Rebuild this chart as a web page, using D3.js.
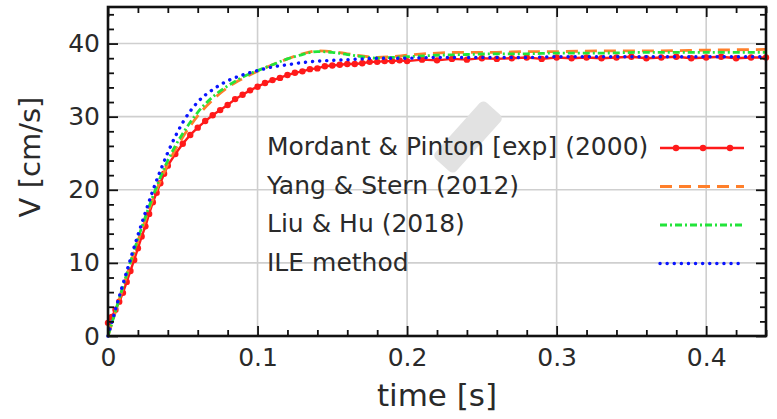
<!DOCTYPE html>
<meta charset="utf-8">
<style>
  body { margin: 0; background: #fff; }
  text { font-family: "DejaVu Sans", sans-serif; fill: #2a2a2a; }
</style>
<div id="chart"></div>
<script src="https://d3js.org/d3.v7.min.js"></script>
<script>

// experimental data, Mordant & Pinton (2000)
var expT = [0, .0025, .005, .0075, .01, .0125, .015, .0175, .02, .0225, .025, .0275, .03, .0325, .035, .0375, .04,
  .045, .05, .055, .06, .065, .07, .075, .08, .085, .09, .095, .1, .105, .11, .115, .12, .125, .13, .135, .14, .145,
  .15, .155, .16, .165, .17, .175, .18, .185, .19, .195, .2,
  .21, .22, .23, .24, .25, .26, .27, .28, .29, .3, .31, .32, .33, .34, .35, .36, .37, .38, .39, .4, .41, .42, .43, .44];
var expV = [1.8, 2.6, 3.6, 4.7, 5.9, 7.4, 8.9, 10.4, 12.0, 13.6, 15.0, 16.7, 18.3, 19.6, 20.9, 22.2, 23.3,
  24.9, 26.3, 27.5, 28.5, 29.4, 30.2, 30.9, 31.6, 32.4, 33.0, 33.6, 34.1, 34.6, 35.0, 35.3, 35.7, 36.0, 36.2, 36.5, 36.6, 36.9,
  37.0, 37.1, 37.2, 37.2, 37.3, 37.5, 37.5, 37.6, 37.6, 37.7, 37.6,
  37.8, 37.7, 37.9, 37.8, 38.0, 37.9, 38.0, 38.1, 37.9, 38.1, 38.0, 38.1, 38.0, 38.1, 38.2, 38.0, 38.1, 38.2, 38.0, 38.1, 38.2, 38.0, 38.1, 38.1];

// simulations share one time axis
var simT = [0, .005, .01, .015, .02, .025, .03, .035, .04, .045, .05, .06, .07, .08, .09, .1, .11, .12, .13, .14,
  .15, .16, .17, .18, .19, .2, .22, .24, .26, .28, .3, .33, .36, .4, .44];
var yangV = [0, 3.3, 6.6, 9.9, 13.0, 15.9, 18.7, 21.2, 23.5, 25.5, 27.2, 30.1, 32.3, 34.0, 35.2, 36.2, 37.1, 37.9, 38.6, 39.0,
  38.9, 38.6, 38.3, 38.1, 38.2, 38.4, 38.7, 38.8, 38.8, 38.9, 38.9, 39.0, 39.0, 39.1, 39.2];
var liuV = [0, 3.4, 6.8, 10.1, 13.3, 16.3, 19.1, 21.7, 24.0, 26.0, 27.7, 30.6, 32.7, 34.2, 35.4, 36.3, 37.1, 37.9, 38.5, 38.9,
  38.8, 38.5, 38.2, 38.0, 38.1, 38.2, 38.4, 38.5, 38.6, 38.6, 38.7, 38.7, 38.8, 38.8, 38.8];
var ileV = [0, 3.6, 7.1, 10.5, 13.8, 16.9, 19.9, 22.6, 25.1, 27.3, 29.2, 32.0, 33.7, 34.9, 35.7, 36.3, 36.8, 37.1, 37.4, 37.6,
  37.7, 37.8, 37.9, 38.0, 38.0, 38.0, 38.1, 38.1, 38.1, 38.1, 38.2, 38.2, 38.2, 38.2, 38.2];

var legendLabels = ["Mordant & Pinton [exp] (2000)", "Yang & Stern (2012)", "Liu & Hu (2018)", "ILE method"];
var xMajor = [0, 0.1, 0.2, 0.3, 0.4];
var xLabels = ["0", "0.1", "0.2", "0.3", "0.4"];
var yMajor = [0, 10, 20, 30, 40];

var W = 777, H = 419;
var margin = {top: 7, right: 11, bottom: 83, left: 108},
  width = W - margin.left - margin.right,
  height = H - margin.top - margin.bottom;

var svg = d3.select("#chart").append("svg")
  .attr("width", W).attr("height", H)
  .append("g")
  .attr("transform", "translate(" + margin.left + "," + margin.top + ")");

var x = d3.scaleLinear().domain([0, 0.44]).range([0, width]);
var y = d3.scaleLinear().domain([0, 45]).range([height, 0]);

var xMinor = d3.range(0, 0.441, 0.02).filter(function(v) { return Math.abs(v * 10 - Math.round(v * 10)) > 1e-6; });
var yMinor = d3.range(0, 45.1, 2).filter(function(v) { return v % 10 !== 0; });

// grid
svg.append("g").selectAll("line").data(xMajor.slice(1)).enter().append("line")
  .attr("x1", x).attr("x2", x).attr("y1", 0).attr("y2", height)
  .style("stroke", "#cfcfcf").style("stroke-width", 1.6);
svg.append("g").selectAll("line").data(yMajor.slice(1)).enter().append("line")
  .attr("y1", y).attr("y2", y).attr("x1", 0).attr("x2", width)
  .style("stroke", "#cfcfcf").style("stroke-width", 1.6);

// faint watermark in the original picture
svg.append("rect")
  .attr("x", -14).attr("y", -38).attr("width", 28).attr("height", 76).attr("rx", 5)
  .attr("transform", "translate(360,130) rotate(42)")
  .style("fill", "#e2e2e2");

// curves
var expData = expT.map(function(t, i) { return {t: t, v: expV[i]}; });
function simData(vals) { return simT.map(function(t, i) { return {t: t, v: vals[i]}; }); }

var line = d3.line().x(function(d) { return x(d.t); }).y(function(d) { return y(d.v); });

var styles = [
  {color: "#ff1a1a", width: 2.4, dash: null},
  {color: "#ff7f2a", width: 2.8, dash: "12,7"},
  {color: "#22e43a", width: 2.8, dash: "7,3,2,3"},
  {color: "#0a14ff", width: 3.4, dash: "0.1,7"}
];

svg.append("path").datum(expData).attr("d", line)
  .style("fill", "none").style("stroke", styles[0].color).style("stroke-width", styles[0].width);
svg.append("g").selectAll("circle").data(expData).enter().append("circle")
  .attr("cx", function(d) { return x(d.t); }).attr("cy", function(d) { return y(d.v); })
  .attr("r", 3.2).style("fill", styles[0].color);

[yangV, liuV, ileV].forEach(function(vals, i) {
  var s = styles[i + 1];
  svg.append("path").datum(simData(vals)).attr("d", line.curve(d3.curveMonotoneX))
    .style("fill", "none").style("stroke", s.color).style("stroke-width", s.width)
    .style("stroke-dasharray", s.dash).style("stroke-linecap", i === 2 ? "round" : "butt");
});

// axes with inward ticks on all sides
function styleAxis(g) {
  g.select(".domain").remove();
  g.selectAll(".tick line").style("stroke", "#111").style("stroke-width", 1.8);
  g.selectAll("text").style("font-size", "25px").style("fill", "#2a2a2a")
    .style("font-family", "'DejaVu Sans', sans-serif");
}
svg.append("g").attr("transform", "translate(0," + height + ")")
  .call(d3.axisBottom(x).tickValues(xMajor).tickFormat(function(d, i) { return xLabels[i]; }).tickSize(-10).tickPadding(12))
  .call(styleAxis);
svg.append("g").attr("transform", "translate(0," + height + ")")
  .call(d3.axisBottom(x).tickValues(xMinor).tickFormat("").tickSize(-6)).call(styleAxis);
svg.append("g")
  .call(d3.axisTop(x).tickValues(xMajor).tickFormat("").tickSize(-10)).call(styleAxis);
svg.append("g")
  .call(d3.axisTop(x).tickValues(xMinor).tickFormat("").tickSize(-6)).call(styleAxis);
svg.append("g")
  .call(d3.axisLeft(y).tickValues(yMajor).tickSize(-10).tickPadding(8)).call(styleAxis);
svg.append("g")
  .call(d3.axisLeft(y).tickValues(yMinor).tickFormat("").tickSize(-6)).call(styleAxis);
svg.append("g").attr("transform", "translate(" + width + ",0)")
  .call(d3.axisRight(y).tickValues(yMajor).tickFormat("").tickSize(-10)).call(styleAxis);
svg.append("g").attr("transform", "translate(" + width + ",0)")
  .call(d3.axisRight(y).tickValues(yMinor).tickFormat("").tickSize(-6)).call(styleAxis);

// frame
svg.append("rect").attr("width", width).attr("height", height)
  .style("fill", "none").style("stroke", "#111").style("stroke-width", 2.6);

// legend
var legend = svg.append("g").attr("transform", "translate(159,141)");
legendLabels.forEach(function(label, i) {
  var row = legend.append("g").attr("transform", "translate(0," + (i * 38.5) + ")");
  row.append("text").attr("x", 0).attr("y", 7).style("font-size", "25px").text(label);
  var s = styles[i];
  row.append("line").attr("x1", 393).attr("x2", 477).attr("y1", 0).attr("y2", 0)
    .style("stroke", s.color).style("stroke-width", s.width)
    .style("stroke-dasharray", s.dash).style("stroke-linecap", i === 3 ? "round" : "butt");
  if (i === 0) {
    row.selectAll("circle").data([409, 436, 463]).enter().append("circle")
      .attr("cx", function(d) { return d; }).attr("cy", 0).attr("r", 3.2).style("fill", s.color);
  }
});

// axis titles
svg.append("text")
  .attr("x", width / 2).attr("y", height + 70)
  .attr("text-anchor", "middle").style("font-size", "31px")
  .text("time [s]");
svg.append("text")
  .attr("transform", "translate(-68," + (157 - margin.top) + ") rotate(-90)")
  .attr("text-anchor", "middle").style("font-size", "29px")
  .text("V [cm/s]");

</script>
